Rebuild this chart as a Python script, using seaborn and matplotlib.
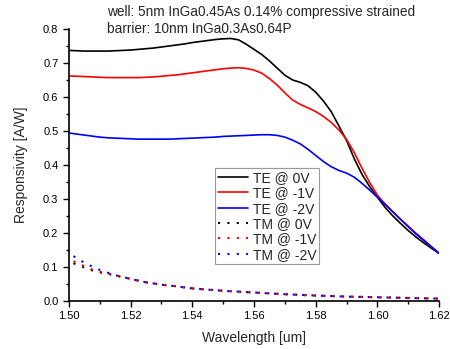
import numpy as np
import pandas as pd
import matplotlib
matplotlib.use("Agg")
import matplotlib.pyplot as plt
from matplotlib.ticker import MultipleLocator, FormatStrFormatter
import seaborn as sns

# TE curves, read every 2.5 nm
te_wavelength = [1.5000, 1.5025, 1.5050, 1.5075, 1.5100, 1.5125, 1.5150, 1.5175,
                 1.5200, 1.5225, 1.5250, 1.5275, 1.5300, 1.5325, 1.5350, 1.5375,
                 1.5400, 1.5425, 1.5450, 1.5475, 1.5500, 1.5525, 1.5550, 1.5575,
                 1.5600, 1.5625, 1.5650, 1.5675, 1.5700, 1.5725, 1.5750, 1.5775,
                 1.5800, 1.5825, 1.5850, 1.5875, 1.5900, 1.5925, 1.5950, 1.5975,
                 1.6000, 1.6025, 1.6050, 1.6075, 1.6100, 1.6125, 1.6150, 1.6175,
                 1.6200]
te_0v = [0.737, 0.736, 0.735, 0.735, 0.735, 0.735, 0.736, 0.737,
         0.738, 0.740, 0.742, 0.744, 0.747, 0.750, 0.753, 0.756,
         0.760, 0.763, 0.766, 0.769, 0.771, 0.772, 0.768, 0.755,
         0.740, 0.725, 0.706, 0.685, 0.664, 0.650, 0.643, 0.633,
         0.614, 0.588, 0.557, 0.515, 0.472, 0.418, 0.372, 0.336,
         0.305, 0.275, 0.250, 0.228, 0.207, 0.188, 0.171, 0.155,
         0.140]
te_1v = [0.662, 0.661, 0.660, 0.659, 0.658, 0.657, 0.657, 0.657,
         0.657, 0.657, 0.658, 0.659, 0.661, 0.663, 0.665, 0.668,
         0.671, 0.674, 0.677, 0.680, 0.683, 0.685, 0.686, 0.684,
         0.679, 0.670, 0.654, 0.635, 0.612, 0.591, 0.578, 0.568,
         0.557, 0.543, 0.525, 0.503, 0.475, 0.436, 0.390, 0.348,
         0.311, 0.285, 0.262, 0.240, 0.220, 0.199, 0.180, 0.160,
         0.140]
te_2v = [0.494, 0.491, 0.488, 0.485, 0.482, 0.480, 0.479, 0.478,
         0.477, 0.476, 0.476, 0.476, 0.476, 0.476, 0.477, 0.478,
         0.479, 0.480, 0.481, 0.482, 0.484, 0.485, 0.486, 0.487,
         0.488, 0.489, 0.489, 0.487, 0.482, 0.473, 0.462, 0.446,
         0.428, 0.410, 0.395, 0.384, 0.376, 0.364, 0.346, 0.326,
         0.305, 0.284, 0.262, 0.240, 0.218, 0.197, 0.178, 0.159,
         0.140]

# TM curves
tm_wavelength = [1.5015, 1.504, 1.5065, 1.509, 1.512, 1.515, 1.520, 1.525,
                 1.530, 1.535, 1.540, 1.550, 1.560, 1.570, 1.580, 1.590,
                 1.600, 1.610, 1.620]
tm_0v = [0.111, 0.102, 0.093, 0.086, 0.081, 0.075, 0.065, 0.055, 0.048,
         0.043, 0.037, 0.030, 0.025, 0.020, 0.016, 0.013, 0.011, 0.009, 0.007]
tm_1v = [0.117, 0.107, 0.096, 0.088, 0.082, 0.076, 0.065, 0.055, 0.048,
         0.043, 0.037, 0.030, 0.025, 0.020, 0.016, 0.013, 0.011, 0.009, 0.007]
tm_2v = [0.132, 0.118, 0.106, 0.095, 0.085, 0.076, 0.065, 0.055, 0.048,
         0.043, 0.037, 0.030, 0.025, 0.020, 0.016, 0.013, 0.011, 0.009, 0.007]

labels = ["TE @ 0V", "TE @ -1V", "TE @ -2V", "TM @ 0V", "TM @ -1V", "TM @ -2V"]
colors = ["#000000", "#ff0000", "#0000ff"]

sns.set_style("ticks")
plt.rcParams["font.family"] = ["Liberation Sans", "DejaVu Sans"]

fig = plt.figure(figsize=(4.5, 3.49), dpi=100)
ax = fig.add_axes([0.153, 0.1375, 0.823, 0.7795])

series = [(te_wavelength, te_0v), (te_wavelength, te_1v), (te_wavelength, te_2v),
          (tm_wavelength, tm_0v), (tm_wavelength, tm_1v), (tm_wavelength, tm_2v)]
for i, (wl, vals) in enumerate(series):
    df = pd.DataFrame({"wavelength": wl, "resp": vals})
    ls = "-" if i < 3 else (0, (1, 3.5))
    lw = 1.2 if i < 3 else 1.5
    sns.lineplot(data=df, x="wavelength", y="resp", ax=ax, color=colors[i % 3],
                 linestyle=ls, linewidth=lw, label=labels[i], estimator=None)

ax.set_xlim(1.50, 1.62)
ax.set_ylim(0.0, 0.8)
ax.xaxis.set_major_locator(MultipleLocator(0.02))
ax.xaxis.set_minor_locator(MultipleLocator(0.01))
ax.yaxis.set_major_locator(MultipleLocator(0.1))
ax.yaxis.set_minor_locator(MultipleLocator(0.05))
ax.xaxis.set_major_formatter(FormatStrFormatter("%.2f"))
ax.yaxis.set_major_formatter(FormatStrFormatter("%.1f"))
ax.tick_params(which="major", direction="out", length=4, width=1, labelsize=8, colors="black")
ax.tick_params(which="minor", direction="out", length=2.5, width=1, colors="black")
sns.despine(ax=ax)
for s in ["left", "bottom"]:
    ax.spines[s].set_linewidth(1.2)
    ax.spines[s].set_color("black")

ax.set_xlabel("Wavelength [um]", fontsize=10, labelpad=7)
ax.set_ylabel("Responsivity [A/W]", fontsize=10, labelpad=11)

leg = ax.legend(loc="upper left", bbox_to_anchor=(0.395, 0.489), borderaxespad=0,
                fontsize=10, frameon=True, fancybox=False, edgecolor="#808080",
                handlelength=2.2, handletextpad=0.3, labelspacing=0.1, borderpad=0.2)
leg.get_frame().set_linewidth(0.8)

fig.text(107 / 450, 1 - 12 / 349, "well: 5nm InGa0.45As 0.14% compressive strained",
         fontsize=9.8, ha="left", va="center")
fig.text(107 / 450, 1 - 29 / 349, "barrier: 10nm InGa0.3As0.64P",
         fontsize=9.8, ha="left", va="center")

fig.savefig("out.png", dpi=100)
